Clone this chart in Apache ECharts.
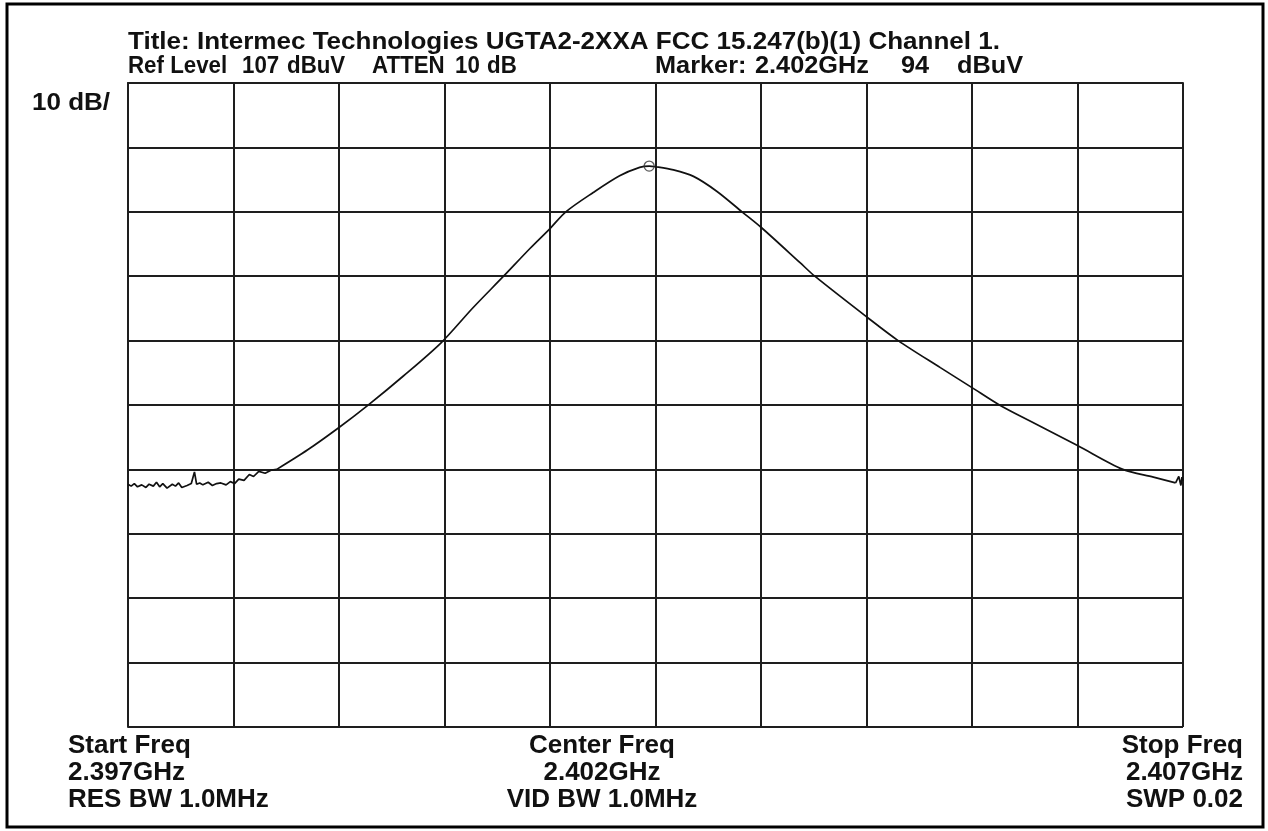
<!DOCTYPE html>
<html>
<head>
<meta charset="utf-8">
<script src="https://cdn.jsdelivr.net/npm/echarts@6/dist/echarts.min.js"></script>
<style>html,body{margin:0;padding:0;background:#fff}#c{width:1268px;height:831px}</style>
</head>
<body>
<div id="c"></div>
<script>
// Noise floor (MHz, dBuV)
const noiseFreqMHz = [
 2397.00,2397.03,2397.06,2397.09,2397.13,2397.17,2397.20,2397.24,2397.27,2397.30,
 2397.33,2397.37,2397.42,2397.45,2397.48,2397.51,2397.56,2397.60,2397.63,2397.65,
 2397.68,2397.71,2397.76,2397.80,2397.84,2397.88,2397.93,2397.97,2398.01,2398.05,
 2398.10,2398.15,2398.19,2398.24,2398.30,2398.36,2398.41
];
const noiseLevelDbuv = [
 44.7,44.4,44.8,44.3,44.6,44.2,44.7,44.4,45.0,44.3,
 44.8,44.1,44.7,44.4,44.9,44.2,44.5,44.8,46.6,44.7,
 44.9,44.6,45.0,44.5,44.8,44.9,44.6,45.1,44.8,45.5,
 45.3,46.2,45.9,46.7,46.4,46.9,47.0
];
// Signal skirt (MHz, dBuV)
const signalFreqMHz = [
 2398.41,2398.70,2399.00,2399.27,2399.61,2399.97,2400.27,2400.56,2400.81,2401.00,
 2401.15,2401.41,2401.66,2401.85,2401.94,2402.00,2402.17,2402.36,2402.58,2402.82,
 2403.00,2403.37,2403.51,2404.00,2404.30,2404.70,2405.00,2405.26,2405.55,2406.00,
 2406.43,2406.72,2406.93
];
const signalLevelDbuv = [
 47.0,50.0,53.5,56.9,61.5,66.7,72.1,77.0,81.3,84.4,
 87.0,90.0,92.6,93.9,94.1,94.0,93.5,92.5,90.2,87.0,
 84.6,79.1,77.0,70.7,67.0,62.8,59.7,57.0,54.5,50.7,
 47.0,45.8,44.9
];
// Ragged end of sweep
const tailFreqMHz = [2406.93,2406.96,2406.98,2406.99,2407.00];
const tailLevelDbuv = [44.9,45.9,44.5,45.8,45.2];

const refLevel = 107;          // dBuV at top graticule
const markerFreq = [2401.94];
const markerLevel = [94.1];
const titleLine = "Title: Intermec Technologies UGTA2-2XXA FCC 15.247(b)(1) Channel 1.";
const infoTokens = ["Ref Level", "107", "dBuV", "ATTEN", "10", "dB", "Marker:", "2.402GHz", "94", "dBuV"];
const scaleLabel = "10 dB/";
const leftLabels = ["Start Freq", "2.397GHz", "RES BW 1.0MHz"];
const centerLabels = ["Center Freq", "2.402GHz", "VID BW 1.0MHz"];
const rightLabels = ["Stop Freq", "2.407GHz", "SWP 0.02"];

// ---- layout ----
const FONT = '"Liberation Sans", Arial, sans-serif';
const HEAD_FONT = 'bold 23px ' + FONT;
const FOOT_FONT = 'bold 26px ' + FONT;
const infoX = [128, 242, 287, 372, 455, 487, 655, 755, 901, 957];
const infoScale = [0.97, 0.97, 0.97, 0.97, 0.97, 0.97, 1.1, 1.1, 1.1, 1.1];

const ctx = document.createElement('canvas').getContext('2d');
ctx.font = HEAD_FONT;
const headScale = 872 / ctx.measureText(titleLine).width;

const toRel = (f, l) => f.map((x, i) => [x, l[i] - refLevel]);

function txt(x, y, s, font, align, sx) {
  return { type: 'text', x: x, y: y, scaleX: sx || 1, silent: true,
    style: { text: s, fill: '#111', font: font, textAlign: align || 'left', textVerticalAlign: 'top' } };
}

const graphics = [
  { type: 'rect', shape: { x: 7, y: 4, width: 1256, height: 823 },
    style: { fill: 'none', stroke: '#000', lineWidth: 3 }, silent: true },
  txt(128, 31, titleLine, HEAD_FONT, 'left', headScale),
  txt(32, 92, scaleLabel, HEAD_FONT, 'left', headScale)
];
infoTokens.forEach((t, i) => graphics.push(txt(infoX[i], 55, t, HEAD_FONT, 'left', infoScale[i])));
[[leftLabels, 68, 'left'], [centerLabels, 602, 'center'], [rightLabels, 1243, 'right']].forEach(([arr, x, al]) => {
  arr.forEach((t, i) => graphics.push(txt(x, 733 + i * 27, t, FOOT_FONT, al)));
});

const axisCommon = {
  axisLine: { show: true, lineStyle: { color: '#1e1e1e', width: 2 } },
  axisTick: { show: false }, axisLabel: { show: false },
  splitLine: { show: true, lineStyle: { color: '#1e1e1e', width: 2 } }
};
const traceStyle = { color: '#111', width: 1.7 };

const chart = echarts.init(document.getElementById('c'), null, { renderer: 'canvas' });
chart.setOption({
  animation: false,
  backgroundColor: '#fff',
  grid: { left: 128, right: 85, top: 83, bottom: 104, show: false },
  xAxis: Object.assign({ type: 'value', min: 2397, max: 2407, interval: 1 }, axisCommon),
  yAxis: Object.assign({ type: 'value', min: -100, max: 0, interval: 10 }, axisCommon),
  series: [
    { type: 'line', data: toRel(noiseFreqMHz, noiseLevelDbuv), showSymbol: false, lineStyle: traceStyle },
    { type: 'line', data: toRel(signalFreqMHz, signalLevelDbuv), showSymbol: false, smooth: 0.3, lineStyle: traceStyle },
    { type: 'line', data: toRel(tailFreqMHz, tailLevelDbuv), showSymbol: false, lineStyle: traceStyle },
    { type: 'scatter', data: toRel(markerFreq, markerLevel), symbol: 'circle', symbolSize: 10,
      itemStyle: { color: 'rgba(0,0,0,0)', borderColor: '#333', borderWidth: 1.3 }, z: 5 }
  ],
  graphic: graphics
});
</script>
</body>
</html>
